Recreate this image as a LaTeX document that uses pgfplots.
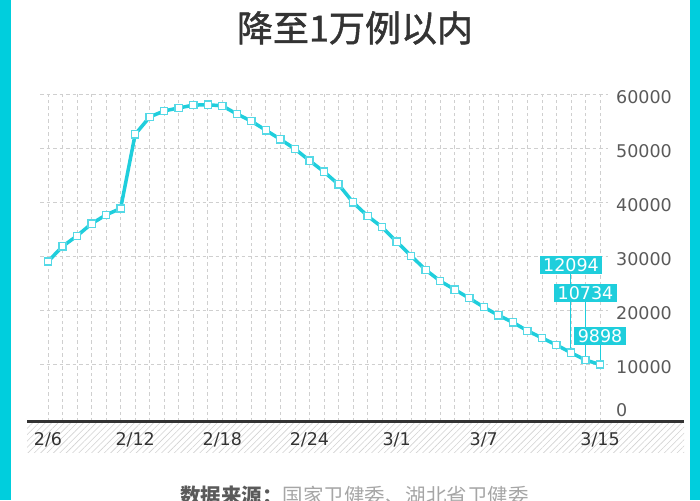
\documentclass[border=0pt]{standalone}
\usepackage{pgfplots}
\pgfplotsset{compat=1.18}
\usepackage{fontspec}
\setmainfont{DejaVu Sans}
\newfontfamily\cjk{Noto Sans CJK SC}
\newfontfamily\cjkt{Noto Sans CJK SC}[FakeBold=1.3]
\usetikzlibrary{patterns.meta}
\definecolor{cy}{HTML}{1FCEDC}
\definecolor{bord}{HTML}{00CEDD}
\definecolor{mk}{HTML}{55D9E6}
\definecolor{grd}{HTML}{CFCFCF}
\definecolor{tx}{HTML}{333333}
\definecolor{ty}{HTML}{5A5A5A}
\pgfplotstableread{
d v
0 28985
1 31774
2 33738
3 35982
4 37626
5 38800
6 52526
7 55748
8 56873
9 57416
10 57934
11 58016
12 57805
13 56303
14 54965
15 53284
16 51606
17 49824
18 47672
19 45604
20 43258
21 39919
22 37414
23 35329
24 32652
25 30004
26 27433
27 25352
28 23784
29 22177
30 20533
31 19016
32 17721
33 16145
34 14831
35 13526
36 12094
37 10734
38 9898
}\cases
\begin{document}
\begin{tikzpicture}[x=1pt,y=1pt]
\fill[white] (0,0) rectangle (700,-500);
\fill[bord] (0,0) rectangle (11,-500);
\fill[bord] (690,0) rectangle (700,-500);
\node[anchor=base, text=tx, inner sep=0, font=\cjkt\fontsize{36}{40}\selectfont] at (355,-41.5) {降至1万例以内};
\fill[pattern={Lines[angle=45,distance=4.5pt,line width=0.6pt]}, pattern color=gray!35] (27,-423) rectangle (684,-452);
\begin{axis}[at={(40pt,-421.5pt)}, anchor=south west, scale only axis,
  width=568pt, height=327.5pt,
  xmin=-0.55, xmax=38.55, ymin=-650, ymax=60000,
  scaled y ticks=false,
  axis line style={draw=none}, major tick length=0pt, minor tick length=0pt,
  xtick={0,6,12,18,24,30,38},
  xticklabels={2/6,2/12,2/18,2/24,3/1,3/7,3/15},
  minor xtick={0,...,38},
  ytick={10000,20000,30000,40000,50000,60000},
  yticklabels={10000,20000,30000,40000,50000,60000},
  yticklabel pos=right,
  extra y ticks={0}, extra y tick labels={0},
  extra y tick style={grid=none, yticklabel style={yshift=11pt}},
  grid=both,
  major grid style={grd, dash pattern=on 3.5pt off 3pt, line width=0.8pt},
  minor grid style={grd, dash pattern=on 3.5pt off 3pt, line width=0.8pt},
  yticklabel style={anchor=west, inner sep=0pt, xshift=8pt, yshift=-3pt, text=ty, font=\fontsize{17.5}{18}\selectfont},
  xticklabel style={anchor=base, inner sep=0pt, yshift=-23.5pt, text=tx, font=\fontsize{17.5}{18}\selectfont},
  clip=false,
]
\addplot[cy, line width=1pt] coordinates {(36,12094) (36,26700)};
\addplot[cy, line width=1pt] coordinates {(37,10734) (37,21500)};
\addplot[cy, line width=1pt] coordinates {(38,9898) (38,13500)};
\addplot[cy, line width=3.5pt, mark=square*, mark size=3.6pt,
  mark options={fill=white, draw=mk, line width=1.3pt}] table[x=d, y=v] {\cases};
\node[fill=cy, text=white, inner xsep=3.5pt, inner ysep=2.5pt, font=\fontsize{17.5}{18}\selectfont] at (axis cs:36,28333) {12094};
\node[fill=cy, text=white, inner xsep=3.5pt, inner ysep=2.5pt, font=\fontsize{17.5}{18}\selectfont] at (axis cs:37,23148) {10734};
\node[fill=cy, text=white, inner xsep=3.5pt, inner ysep=2.5pt, font=\fontsize{17.5}{18}\selectfont] at (axis cs:38,15185) {9898};
\end{axis}
\draw[line width=3pt, tx] (27,-421.5) -- (684,-421.5);
\node[anchor=base west, inner sep=0pt, font=\cjk\fontsize{20.5}{24}\selectfont] at (180,-503.6) {{\bfseries\color{ty}数据来源：}{\color{gray!70}国家卫健委、湖北省卫健委}};
\pgfresetboundingbox
\path[use as bounding box] (0,0) rectangle (700,-500);
\end{tikzpicture}
\end{document}
